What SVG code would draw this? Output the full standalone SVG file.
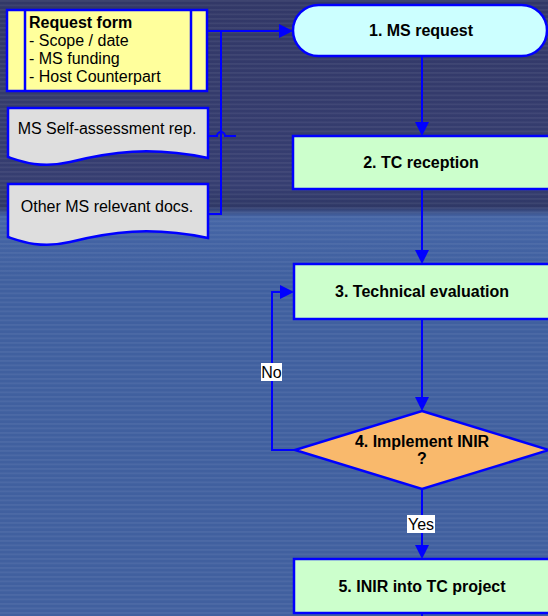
<svg xmlns="http://www.w3.org/2000/svg" width="548" height="616" viewBox="0 0 548 616">
  <defs>
    <linearGradient id="bg" x1="0" y1="0" x2="0" y2="1">
      <stop offset="0" stop-color="#323867"/>
      <stop offset="0.30" stop-color="#363e71"/>
      <stop offset="0.335" stop-color="#2f3866"/>
      <stop offset="0.352" stop-color="#4565a6"/>
      <stop offset="0.45" stop-color="#40609f"/>
      <stop offset="1" stop-color="#41609f"/>
    </linearGradient>
    <pattern id="stripes" width="8" height="4.5" patternUnits="userSpaceOnUse">
      <rect x="0" y="0" width="8" height="1.8" fill="#ffffff" fill-opacity="0.06"/>
    </pattern>
    <marker id="arrow" viewBox="0 0 14 14" refX="12" refY="7" markerWidth="14" markerHeight="14" markerUnits="userSpaceOnUse" orient="auto">
      <path d="M0,0 L14,7 L0,14 z" fill="#0000ff"/>
    </marker>
  </defs>
  <style>
    .shape { stroke: #0000ff; stroke-width: 2.5; }
    .conn { fill: none; stroke: #0000ff; stroke-width: 2; }
    .t { font-family: "Liberation Sans", Arial, sans-serif; font-size: 16px; fill: #000000; }
    .b { font-weight: bold; }
    .mid { text-anchor: middle; }
    .tag { fill: #ffffff; }
  </style>

  <!-- background -->
  <rect x="0" y="0" width="548" height="616" fill="url(#bg)"/>
  <rect x="0" y="0" width="548" height="616" fill="url(#stripes)"/>

  <!-- connectors -->
  <g id="connectors">
    <path class="conn" d="M208,31 H291" marker-end="url(#arrow)"/>
    <path class="conn" d="M208,214 H221 V31"/>
    <path class="conn" d="M208,136 H217 A4,4 0 0 1 225,136 H236"/>
    <path class="conn" d="M422,56 V134" marker-end="url(#arrow)"/>
    <path class="conn" d="M422,189 V262" marker-end="url(#arrow)"/>
    <path class="conn" d="M422,319 V409" marker-end="url(#arrow)"/>
    <path class="conn" d="M422,489 V557" marker-end="url(#arrow)"/>
    <path class="conn" d="M295,450 H272 V292 H292" marker-end="url(#arrow)"/>
    <path class="conn" d="M422,613 V616"/>
    <g id="label-no">
      <rect class="tag" x="261" y="363" width="21" height="18"/>
      <text class="t" x="271.5" y="378" text-anchor="middle">No</text>
    </g>
    <g id="label-yes">
      <rect class="tag" x="407" y="515" width="28" height="18"/>
      <text class="t" x="421" y="530" text-anchor="middle">Yes</text>
    </g>
  </g>

  <!-- input documents -->
  <g id="request-form">
    <rect class="shape" x="7" y="10" width="200" height="81" fill="#ffff9c"/>
    <line class="shape" x1="25" y1="10" x2="25" y2="91"/>
    <line class="shape" x1="191" y1="10" x2="191" y2="91"/>
    <text class="t b" x="29" y="28">Request form</text>
    <text class="t" x="29" y="46">- Scope / date</text>
    <text class="t" x="29" y="64">- MS funding</text>
    <text class="t" x="29" y="82">- Host Counterpart</text>
  </g>

  <g id="self-assessment">
    <path class="shape" fill="#dedede" d="M8,108 H208 V158 C150,146 110,152 70,162 C40,169 20,161 8,157 Z"/>
    <text class="t mid" x="107" y="134">MS Self-assessment rep.</text>
  </g>

  <g id="other-docs">
    <path class="shape" fill="#dedede" d="M8,184 H208 V238 C150,226 110,232 70,242 C40,249 20,241 8,237 Z"/>
    <text class="t mid" x="107" y="212">Other MS relevant docs.</text>
  </g>

  <!-- process steps -->
  <g id="ms-request">
    <rect class="shape" x="293" y="5" width="254" height="51" rx="25.5" ry="25.5" fill="#ccffff"/>
    <text class="t b mid" x="421" y="36">1. MS request</text>
  </g>

  <g id="tc-reception">
    <rect class="shape" x="293" y="136" width="270" height="53" fill="#ccffcc"/>
    <text class="t b mid" x="421" y="168">2. TC reception</text>
  </g>

  <g id="technical-evaluation">
    <rect class="shape" x="294" y="264" width="270" height="55" fill="#ccffcc"/>
    <text class="t b mid" x="422" y="297">3. Technical evaluation</text>
  </g>

  <g id="implement-inir">
    <path class="shape" fill="#f9b96c" d="M422,411 L549,450 L422,489 L295,450 Z"/>
    <text class="t b mid" x="422" y="447">4. Implement INIR</text>
    <text class="t b mid" x="422" y="464">?</text>
  </g>

  <g id="inir-into-tc">
    <rect class="shape" x="294" y="559" width="270" height="54" fill="#ccffcc"/>
    <text class="t b mid" x="422" y="592">5. INIR into TC project</text>
  </g>
</svg>
